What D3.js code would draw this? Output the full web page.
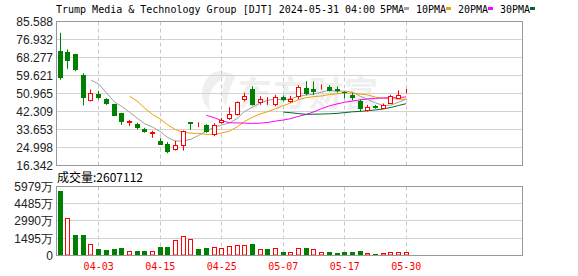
<!DOCTYPE html>
<html>
<head>
<meta charset="utf-8">
<script src="https://cdn.jsdelivr.net/npm/d3@7"></script>
<style>
body { margin: 0; background: #fff; }
svg text { font-family: "Liberation Sans", Arial, sans-serif; }
</style>
</head>
<body>
<script>
// daily candles, DJT, 2024-03-26 .. 2024-05-30
var dates = ["03-26","03-27","03-28","04-01","04-02","04-03","04-04","04-05","04-08","04-09",
	"04-10","04-11","04-12","04-15","04-16","04-17","04-18","04-19","04-22","04-23",
	"04-24","04-25","04-26","04-29","04-30","05-01","05-02","05-03","05-06","05-07",
	"05-08","05-09","05-10","05-13","05-14","05-15","05-16","05-17","05-20","05-21",
	"05-22","05-23","05-24","05-28","05-29","05-30"];
var opens = [71.31,70.83,69.72,60.10,47.74,50.96,48.22,45.68,41.35,37.40,
	36.06,34.13,32.20,28.22,26.92,24.37,25.96,37.02,35.80,35.60,
	31.58,37.16,39.09,40.87,48.08,53.22,46.78,47.80,46.01,49.19,
	47.26,49.86,53.70,53.22,53.10,54.00,53.22,51.90,50.48,47.12,
	43.27,45.19,44.09,46.50,49.04,52.10];
var highs = [80.16,72.12,70.05,60.72,52.89,52.26,48.70,45.99,41.68,38.20,
	36.87,34.47,33.03,29.47,27.55,28.22,33.17,37.10,37.16,36.20,
	36.68,39.28,44.38,47.12,51.30,54.47,49.66,49.19,50.34,50.00,
	49.86,54.96,56.88,56.73,55.30,54.96,54.33,52.00,51.30,47.93,
	45.53,45.53,46.16,50.34,52.41,53.22];
var lows = [57.55,62.84,61.69,45.19,47.12,48.08,45.53,40.05,35.91,35.30,
	33.65,32.07,29.66,26.29,22.26,23.55,23.55,33.50,34.76,32.07,
	30.43,36.39,38.32,40.38,47.12,45.19,45.53,45.53,44.86,47.26,
	46.50,48.22,50.14,50.34,52.90,51.93,51.45,48.56,47.60,42.31,
	42.31,43.61,43.61,46.01,48.89,51.11];
var closes = [58.32,66.69,62.03,48.70,51.44,48.70,46.01,40.38,37.16,37.60,
	34.47,32.36,32.50,26.44,22.74,26.29,32.84,36.39,36.00,32.69,
	35.60,38.46,41.20,46.78,50.00,45.53,48.41,47.95,49.52,47.93,
	48.56,54.33,50.82,51.45,53.30,52.40,51.93,51.70,48.70,43.61,
	44.38,43.89,45.34,49.66,50.48,52.30];
// volume in 万 shares
var volumes = [5549,3278,1754,1754,1035,546,460,546,690,431,
	374,374,431,719,719,1322,1725,1409,546,632,
	776,632,862,949,949,977,546,546,632,287,
	345,690,632,604,345,287,201,287,287,374,
	201,115,201,287,287,261];

var priceTicks = [16.342,24.998,33.653,42.309,50.965,59.621,68.277,76.932,85.588];
var volTicks = [0,1495,2990,4485,5979];
var tickDates = ["04-03","04-15","04-25","05-07","05-17","05-30"];
var maDays = [5,10,20,30];
var maNames = ["5PMA","10PMA","20PMA","30PMA"];
var maColors = ["#a0a0a0","#f0a000","#ff00ff","#006a2e"];
var title = "Trump Media & Technology Group [DJT] 2024-05-31 04:00 ";
var lastVolume = "2607112";

var W = 578, H = 276;
var left = 56, right = 522;
var pTop = 21.5, pBot = 165.5;
var vTop = 186.5, vBot = 255.5;
var red = "#ff0000", green = "#008000";
var charW = 6;

var svg = d3.select("body").append("svg").attr("width", W).attr("height", H);

var x = d3.scaleLinear().domain([-0.55, 60.05]).range([left, right]);
var y = d3.scaleLinear().domain([priceTicks[0], priceTicks[priceTicks.length-1]]).range([pBot, pTop]);
var yv = d3.scaleLinear().domain([volTicks[0], volTicks[volTicks.length-1]]).range([vBot, vTop]);

var data = dates.map(function(d, i) {
	return {date: d, i: i, o: opens[i], h: highs[i], l: lows[i], c: closes[i], v: volumes[i],
		volUp: i == 0 ? closes[i] >= opens[i] : closes[i] >= closes[i-1]};
});

function crisp(v) { return Math.round(v - 0.5) + 0.5; }

// title + legend
var t = svg.append("g").attr("font-family", "DejaVu Sans Mono, monospace").attr("font-size", 10);
t.append("text").attr("x", left).attr("y", 13).attr("fill", "#000")
	.style("font-family", "DejaVu Sans Mono, monospace").text(title);
var pos = title.length;
maNames.forEach(function(n, k) {
	t.append("text").attr("x", left + pos*charW).attr("y", 13).attr("fill", "#000")
		.style("font-family", "DejaVu Sans Mono, monospace").text(n);
	pos += n.length;
	t.append("rect").attr("x", left + pos*charW).attr("y", 7).attr("width", 5).attr("height", 3)
		.attr("fill", maColors[k]);
	pos += 2;
});

// watermark
svg.append("text").attr("x", 238).attr("y", 106).attr("font-size", 34).attr("font-weight", "bold")
	.style("font-family", "Noto Sans CJK SC").attr("fill", "#efefef")
	.attr("textLength", 140).text("东方财富");
svg.append("path").attr("d", "M214,72 C200,82 198,100 210,110 C206,96 212,84 226,76 C222,88 220,98 226,106 C228,92 232,82 236,76 C228,72 220,70 214,72 Z")
	.attr("fill", "#efefef");

// price grid
var gp = svg.append("g");
gp.selectAll("line.h").data(priceTicks.slice(1, -1)).enter().append("line")
	.attr("x1", left).attr("x2", right)
	.attr("y1", function(d) { return crisp(y(d)); }).attr("y2", function(d) { return crisp(y(d)); })
	.attr("stroke", "#d3d3d3");
var tickIdx = tickDates.map(function(d) { return dates.indexOf(d); });
[[pTop, pBot], [vTop, vBot]].forEach(function(r) {
	svg.append("g").selectAll("line").data(tickIdx).enter().append("line")
		.attr("x1", function(d) { return crisp(x(d)); }).attr("x2", function(d) { return crisp(x(d)); })
		.attr("y1", r[0]).attr("y2", r[1])
		.attr("stroke", "#c8c8c8").attr("stroke-dasharray", "4,3");
});
svg.append("g").selectAll("line").data(volTicks.slice(1, -1)).enter().append("line")
	.attr("x1", left).attr("x2", right)
	.attr("y1", function(d) { return crisp(yv(d)); }).attr("y2", function(d) { return crisp(yv(d)); })
	.attr("stroke", "#d3d3d3");

// y labels
svg.append("g").selectAll("text").data(priceTicks).enter().append("text")
	.attr("x", 53).attr("y", function(d) { return y(d) + 4.5; })
	.attr("text-anchor", "end").attr("font-size", 12).attr("fill", "#222")
	.text(function(d) { return d.toFixed(3); });
svg.append("g").selectAll("text").data(volTicks).enter().append("text")
	.attr("x", 53).attr("y", function(d) { return yv(d) + 4.5; })
	.attr("text-anchor", "end").attr("font-size", 12).attr("fill", "#222")
	.text(function(d) { return d == 0 ? "0" : d + "万"; });

svg.append("text").attr("x", 57).attr("y", 182).attr("font-size", 12).attr("fill", "#000")
	.style("font-family", "Noto Sans CJK SC").text("成交量:" + lastVolume);

// date labels
svg.append("g").selectAll("text").data(tickIdx).enter().append("text")
	.attr("x", function(d) { return x(d); }).attr("y", 270)
	.attr("text-anchor", "middle").attr("font-size", 10).attr("fill", red)
	.style("font-family", "DejaVu Sans Mono, monospace")
	.text(function(d) { return dates[d]; });

// moving averages
maDays.forEach(function(n, k) {
	var pts = [];
	for (var i = n - 1; i < closes.length; i++) {
		pts.push([i, d3.mean(closes.slice(i - n + 1, i + 1))]);
	}
	svg.append("path").datum(pts)
		.attr("d", d3.line().x(function(d) { return x(d[0]); }).y(function(d) { return y(d[1]); }))
		.attr("fill", "none").attr("stroke", maColors[k]).attr("stroke-width", 1);
});

// candles
var cg = svg.append("g").selectAll("g").data(data).enter().append("g");
function bx(d) { return Math.round(x(d.i) - 2.5); }
cg.append("line")
	.attr("x1", function(d) { return bx(d) + 2.5; }).attr("x2", function(d) { return bx(d) + 2.5; })
	.attr("y1", function(d) { return y(d.h); }).attr("y2", function(d) { return y(d.l); })
	.attr("stroke", function(d) { return d.c >= d.o ? red : green; });
cg.append("rect")
	.attr("x", function(d) { return d.c >= d.o ? bx(d) + 0.5 : bx(d); })
	.attr("width", function(d) { return d.c >= d.o ? 4 : 5; })
	.attr("y", function(d) {
		var top = Math.round(y(Math.max(d.o, d.c)));
		return d.c >= d.o ? top + 0.5 : top;
	})
	.attr("height", function(d) {
		var h = Math.round(y(Math.min(d.o, d.c))) - Math.round(y(Math.max(d.o, d.c)));
		return d.c >= d.o ? Math.max(0, h) : Math.max(1, h);
	})
	.attr("fill", function(d) { return d.c >= d.o ? "#fff" : green; })
	.attr("stroke", function(d) { return d.c >= d.o ? red : "none"; });

// volume
svg.append("g").selectAll("rect").data(data).enter().append("rect")
	.attr("x", function(d) { return d.volUp ? bx(d) + 0.5 : bx(d); })
	.attr("width", function(d) { return d.volUp ? 4 : 5; })
	.attr("y", function(d) { return d.volUp ? Math.round(yv(d.v)) + 0.5 : Math.round(yv(d.v)); })
	.attr("height", function(d) { return vBot - 0.5 - Math.round(yv(d.v)) - (d.volUp ? 0.5 : 0); })
	.attr("fill", function(d) { return d.volUp ? "#fff" : green; })
	.attr("stroke", function(d) { return d.volUp ? red : "none"; });

// borders
svg.append("rect").attr("x", left + 0.5).attr("y", pTop).attr("width", right - left).attr("height", pBot - pTop)
	.attr("fill", "none").attr("stroke", "#999");
svg.append("rect").attr("x", left + 0.5).attr("y", vTop).attr("width", right - left).attr("height", vBot - vTop)
	.attr("fill", "none").attr("stroke", "#999");
</script>
</body>
</html>
